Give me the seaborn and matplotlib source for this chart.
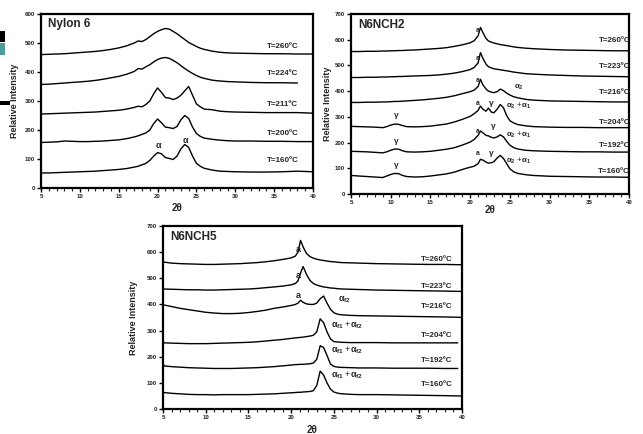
import numpy as np
import pandas as pd
import matplotlib
matplotlib.use('Agg')
import matplotlib.pyplot as plt
from matplotlib.patches import Rectangle
from matplotlib.ticker import MultipleLocator
import seaborn as sns

# ---- Nylon 6 ----
n6_x = [5, 6, 7, 8, 9, 10, 11, 12, 13, 14, 15, 16, 17, 17.5, 18, 18.5, 19, 19.5, 20, 20.5,
        21, 21.5, 22, 22.5, 23, 23.5, 24, 24.5, 25, 25.5, 26, 27, 28, 29, 30, 32, 34, 36, 38, 40]
n6_160 = [52, 52, 53, 54, 55, 56, 57, 58, 60, 62, 64, 67, 72, 75, 80, 85, 95, 110, 122, 118,
          105, 102, 98, 110, 135, 150, 140, 110, 85, 75, 68, 62, 58, 57, 56, 55, 55, 56, 58, 56]
n6_200 = [157, 158, 159, 162, 161, 160, 160, 161, 162, 164, 166, 170, 176, 180, 185, 190, 200, 222, 238, 225,
          210, 208, 205, 212, 235, 250, 240, 210, 188, 178, 172, 168, 165, 163, 162, 162, 161, 161, 160, 160]
n6_211 = [255, 256, 257, 258, 259, 260, 261, 262, 264, 266, 268, 272, 278, 282, 280, 288, 300, 325, 345, 330,
          312, 310, 305, 310, 320, 335, 350, 320, 290, 280, 272, 270, 265, 263, 262, 261, 260, 260, 260, 258]
n6_224 = [357, 358, 360, 362, 364, 366, 368, 371, 375, 380, 385, 392, 402, 412, 410, 418, 425, 435, 443, 448,
          450, 447, 440, 432, 422, 412, 403, 395, 388, 382, 378, 372, 369, 367, 366, 364, 363, 363, 362, np.nan]
n6_260 = [460, 461, 462, 463, 465, 467, 469, 471, 474, 478, 483, 490, 500, 507, 505, 512, 522, 532, 540, 546,
          550, 548, 540, 532, 522, 512, 502, 495, 488, 482, 478, 472, 468, 466, 465, 464, 463, 463, 462, 462]
n6_temps = ['T=160ºC', 'T=200ºC', 'T=211ºC', 'T=224ºC', 'T=260ºC']
n6_label_y = [94, 189, 289, 396, 488]

# ---- N6NCH2 ----
c2_x = [5, 6, 7, 8, 9, 9.5, 10, 10.5, 11, 11.5, 12, 13, 14, 15, 16, 17, 18, 19, 19.5, 20, 20.5, 21,
        21.3, 21.6, 22, 22.3, 22.7, 23, 23.4, 23.8, 24.2, 24.6, 25, 25.5, 26, 27, 28, 30, 32, 34, 36, 38, 40]
c2_160 = [72, 70, 68, 66, 64, 70, 76, 80, 79, 72, 68, 66, 67, 70, 74, 78, 85, 95, 100, 104, 108, 118,
          135, 132, 124, 120, 122, 126, 140, 150, 138, 118, 98, 86, 80, 75, 72, 69, 68, 67, 66, 66, 65]
c2_192 = [166, 165, 164, 162, 160, 164, 170, 175, 174, 168, 164, 163, 164, 166, 170, 174, 180, 190, 196, 202, 212, 228,
          245, 238, 228, 226, 220, 218, 222, 230, 222, 205, 190, 180, 175, 170, 168, 166, 165, 164, 164, 163, 163]
c2_204 = [263, 262, 261, 260, 258, 262, 268, 272, 271, 266, 262, 261, 262, 264, 268, 272, 280, 290, 296, 302, 312, 325,
          342, 330, 322, 334, 318, 316, 330, 348, 335, 305, 285, 276, 270, 265, 262, 260, 259, 259, 258, 258, 258]
c2_216 = [356, 356, 357, 357, 358, 358, 359, 360, 360, 361, 362, 364, 366, 369, 372, 376, 382, 390, 394, 398, 404, 418,
          446, 425, 408, 400, 396, 394, 398, 408, 402, 392, 385, 378, 374, 368, 365, 362, 361, 360, 359, 358, 358]
c2_223 = [453, 453, 454, 454, 455, 455, 456, 456, 457, 457, 458, 459, 460, 461, 463, 466, 470, 476, 480, 484, 492, 510,
          550, 528, 505, 495, 490, 487, 485, 483, 481, 479, 477, 474, 472, 468, 466, 463, 461, 459, 458, 457, 456]
c2_260 = [554, 554, 555, 555, 556, 556, 557, 557, 558, 558, 559, 560, 562, 564, 566, 569, 574, 580, 584, 588, 596, 615,
          648, 628, 605, 595, 590, 587, 584, 581, 579, 577, 575, 572, 570, 567, 565, 562, 560, 559, 558, 557, 557]
c2_temps = ['T=160ºC', 'T=192ºC', 'T=204ºC', 'T=216ºC', 'T=223ºC', 'T=260ºC']
c2_label_y = [88, 188, 278, 395, 495, 595]

# ---- N6NCH5 ----
c5_x = [5, 5.1, 6, 7, 8, 9, 10, 11, 12, 13, 14, 15, 16, 17, 18, 19, 20, 20.5, 20.8, 21.1, 21.4,
        21.8, 22.2, 22.6, 23, 23.4, 23.8, 24.2, 24.6, 25, 25.5, 26, 27, 28, 30, 32, 34, 36, 38, 39.5, 40]
c5_160 = [64, 63, 60, 58, 56, 55, 55, 54, 55, 55, 55, 55, 56, 57, 58, 60, 62, 63, 64, 64, 65,
          66, 67, 70, 90, 145, 130, 100, 76, 65, 60, 58, 56, 55, 55, 54, 53, 52, 51, 50, 50]
c5_192 = [182, 165, 162, 160, 158, 157, 156, 155, 155, 155, 156, 157, 158, 160, 162, 165, 168, 170, 170, 171, 171,
          172, 173, 176, 190, 242, 235, 205, 172, 163, 160, 159, 158, 157, 157, 156, 156, 156, 155, 155, np.nan]
c5_204 = [262, 253, 252, 251, 250, 250, 250, 251, 252, 253, 254, 255, 257, 260, 263, 266, 270, 272, 273, 274, 275,
          277, 279, 282, 295, 345, 330, 295, 268, 258, 256, 255, 254, 254, 254, 253, 253, 253, 253, 253, np.nan]
c5_216 = [400, 398, 392, 385, 380, 375, 370, 367, 365, 365, 366, 369, 373, 378, 385, 390, 396, 400, 405, 416, 408,
          402, 400, 400, 405, 422, 432, 405, 382, 368, 362, 360, 358, 357, 356, 355, 354, 353, 352, 351, 350]
c5_223 = [459, 459, 458, 457, 456, 456, 455, 455, 456, 457, 458, 459, 461, 464, 467, 470, 475, 480, 490, 520, 545,
          515, 492, 480, 474, 470, 467, 465, 463, 462, 460, 459, 458, 457, 455, 454, 453, 452, 451, 450, 450]
c5_260 = [563, 562, 558, 556, 555, 554, 553, 553, 554, 555, 556, 558, 560, 563, 567, 572, 578, 585, 600, 645, 620,
          595, 583, 577, 573, 570, 568, 566, 564, 563, 561, 560, 559, 558, 556, 555, 554, 553, 553, 552, 552]
c5_temps = ['T=160ºC', 'T=192ºC', 'T=204ºC', 'T=216ºC', 'T=223ºC', 'T=260ºC']
c5_label_y = [93, 184, 283, 391, 470, 572]

sns.set_style("ticks")
plt.rcParams['font.family'] = ['Liberation Sans', 'DejaVu Sans']
plt.rcParams['mathtext.fontset'] = 'custom'
plt.rcParams['mathtext.rm'] = 'Liberation Sans:bold'
plt.rcParams['mathtext.it'] = 'Liberation Sans:bold'
plt.rcParams['mathtext.bf'] = 'Liberation Sans:bold'

W, H = 643, 434
fig = plt.figure(figsize=(W / 100, H / 100), dpi=100)


def px_axes(left, top, right, bottom):
    return fig.add_axes([left / W, 1 - bottom / H, (right - left) / W, (bottom - top) / H])


def style_axes(ax, ymax, title, ylab_off, xlab_off):
    ax.set_xlim(5, 40)
    ax.set_ylim(0, ymax)
    ax.xaxis.set_major_locator(MultipleLocator(5))
    ax.xaxis.set_minor_locator(MultipleLocator(1))
    ax.yaxis.set_major_locator(MultipleLocator(100))
    ax.tick_params(which='major', direction='out', length=3, width=1, labelsize=4.4,
                   pad=1.5, colors='black', labelcolor='#222222')
    ax.tick_params(which='minor', direction='out', length=1.8, width=0.8)
    for lab in ax.get_xticklabels() + ax.get_yticklabels():
        lab.set_fontweight('bold')
    for sp in ax.spines.values():
        sp.set_linewidth(1.6)
        sp.set_color('black')
    ax.set_ylabel('Relative Intensity', fontsize=6.5, fontweight='bold')
    ax.set_xlabel('2θ', fontsize=7, fontweight='bold')
    bb = ax.get_position()
    ax.yaxis.set_label_coords(-ylab_off / (bb.width * W), 0.5)
    ax.xaxis.set_label_coords(0.5, -xlab_off / (bb.height * H))
    ax.text(0.025, 0.975, title, transform=ax.transAxes, ha='left', va='top',
            fontsize=8.5, fontweight='bold')


def draw_curves(ax, x, curves):
    for y in curves:
        sns.lineplot(x=x, y=y, ax=ax, color='black', linewidth=1.0)


# ---- Panel 1: Nylon 6 ----
ax1 = px_axes(41, 14, 313, 188)
draw_curves(ax1, n6_x, [n6_160, n6_200, n6_211, n6_224, n6_260])
style_axes(ax1, 600, 'Nylon 6', 22, 15)
for t, yy in zip(n6_temps, n6_label_y):
    ax1.text(36.1, yy, t, ha='center', va='center', fontsize=5.8, fontweight='bold')
ax1.text(20.1, 147, 'α', ha='center', va='center', fontsize=6.5, fontweight='bold')
ax1.text(23.6, 164, 'α', ha='center', va='center', fontsize=6.5, fontweight='bold')

# ---- Panel 2: N6NCH2 ----
ax2 = px_axes(351, 14, 629, 194)
draw_curves(ax2, c2_x, [c2_160, c2_192, c2_204, c2_216, c2_223, c2_260])
style_axes(ax2, 700, 'N6NCH2', 19, 11)
for t, yy in zip(c2_temps, c2_label_y):
    ax2.text(40.15, yy, t, ha='right', va='center', fontsize=5.8, fontweight='bold')
for yy in [634, 528, 441, 353, 243, 157]:
    ax2.text(21.0, yy, 'a', ha='center', va='center', fontsize=4.8, fontweight='bold')
for xx, yy in [(22.7, 353), (22.9, 263), (22.7, 157), (10.7, 304), (10.7, 204), (10.7, 111)]:
    ax2.text(xx, yy, 'γ', ha='center', va='center', fontsize=6, fontweight='bold')
ax2.text(26.2, 415, r'$\alpha_2$', ha='center', va='center', fontsize=5.8)
for yy in [343, 230, 127]:
    ax2.text(24.5, yy, r'$\alpha_2$ +$\alpha_1$', ha='left', va='center', fontsize=5.8)

# ---- Panel 3: N6NCH5 ----
ax3 = px_axes(163, 226, 462, 409)
draw_curves(ax3, c5_x, [c5_160, c5_192, c5_204, c5_216, c5_223, c5_260])
style_axes(ax3, 700, 'N6NCH5', 25, 16)
for t, yy in zip(c5_temps, c5_label_y):
    ax3.text(37.0, yy, t, ha='center', va='center', fontsize=5.8, fontweight='bold')
for yy in [610, 512, 436]:
    ax3.text(20.8, yy, 'a', ha='center', va='center', fontsize=6.5, fontweight='bold')
ax3.text(25.5, 419, r'$\alpha_{f2}$', ha='left', va='center', fontsize=6.5)
for yy in [321, 226, 131]:
    ax3.text(24.7, yy, r'$\alpha_{f1}$ +$\alpha_{f2}$', ha='left', va='center', fontsize=6.5)

# leftover bits at the left edge of the scanned figure
fig.add_artist(Rectangle((0, 1 - 42 / H), 5 / W, 11 / H, transform=fig.transFigure,
                         color='black', lw=0))
fig.add_artist(Rectangle((0, 1 - 55 / H), 5 / W, 12 / H, transform=fig.transFigure,
                         color='#4e9c9a', lw=0))
fig.add_artist(Rectangle((0, 1 - 105 / H), 10 / W, 4 / H, transform=fig.transFigure,
                         color='black', lw=0))

fig.savefig('out.png', dpi=100)
